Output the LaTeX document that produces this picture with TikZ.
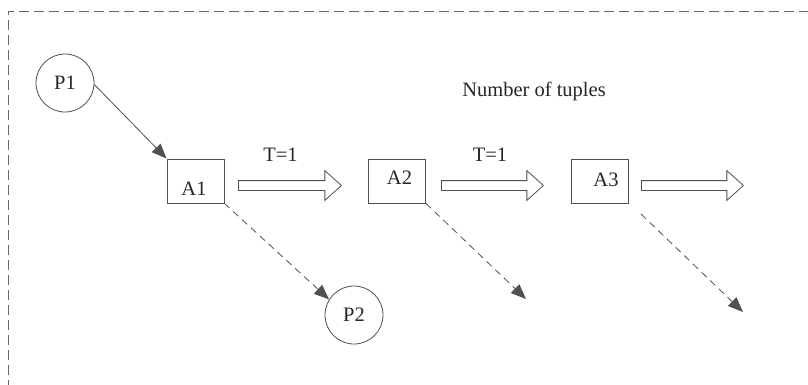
\documentclass[tikz,border=0pt]{standalone}
\usepackage{fontspec}
\setmainfont{Liberation Serif}
\usetikzlibrary{shapes.arrows,arrows.meta}
\definecolor{linegray}{HTML}{505050}
\definecolor{framegray}{HTML}{6A6A6A}
\definecolor{inkgray}{HTML}{262626}
\begin{document}
\begin{tikzpicture}[x=1pt,y=-1pt,
  every node/.style={font=\fontsize{20.5}{23}\selectfont, text=inkgray},
  proc/.style={circle, draw=linegray, line width=0.8pt, minimum size=58pt, inner sep=0pt},
  attr/.style={rectangle, draw=linegray, line width=0.8pt, minimum width=57pt, minimum height=44pt, inner sep=0pt},
  flow/.style={single arrow, draw=linegray, line width=0.8pt, inner sep=4.5pt,
    single arrow head extend=10pt, single arrow tip angle=84, anchor=west},
  solidarr/.style={draw=linegray, line width=0.8pt, -{Triangle[length=15pt,width=12pt]}},
  dasharr/.style={draw=linegray, line width=0.8pt, dash pattern=on 7pt off 5pt,
    -{Triangle[length=15pt,width=12pt]}}
]
\useasboundingbox (0,0) rectangle (808,384);

% outer dashed frame (right and bottom sides lie outside the page)
\draw[framegray, line width=0.9pt, dash pattern=on 10pt off 5pt]
  (8,390) -- (8,11) -- (815,11);

% nodes
\node[proc] (P1) at (65,83) {P1};
\node[proc] (P2) at (354,315) {P2};
\node[attr, label={[xshift=-1.5pt, yshift=-7.5pt]center:A1}] (A1) at (195.5,181) {};
\node[attr, label={[xshift=2.5pt, yshift=3pt]center:A2}] (A2) at (397,181) {};
\node[attr, label={[xshift=6.5pt, yshift=1pt]center:A3}] (A3) at (599.5,181) {};

% flow arrows between the attribute boxes
\node[flow, minimum height=103pt] (F1) at (238,185.5) {};
\node[flow, minimum height=102pt] (F2) at (441,185.5) {};
\node[flow, minimum height=102pt] (F3) at (641,185.5) {};
\node (T1) at (280.5,155) {T=1};
\node (T2) at (490,155) {T=1};
\node (NT) at (534,91) {Number of tuples};

% connectors
\coordinate (E2) at (526,299);
\coordinate (S3) at (641,214);
\coordinate (E3) at (743,312);
\draw[solidarr] (P1.-3) -- (A1.north west);
\draw[dasharr] (A1.south east) -- (P2.148);
\draw[dasharr] (A2.south east) -- (E2);
\draw[dasharr] (S3) -- (E3);
\end{tikzpicture}
\end{document}
